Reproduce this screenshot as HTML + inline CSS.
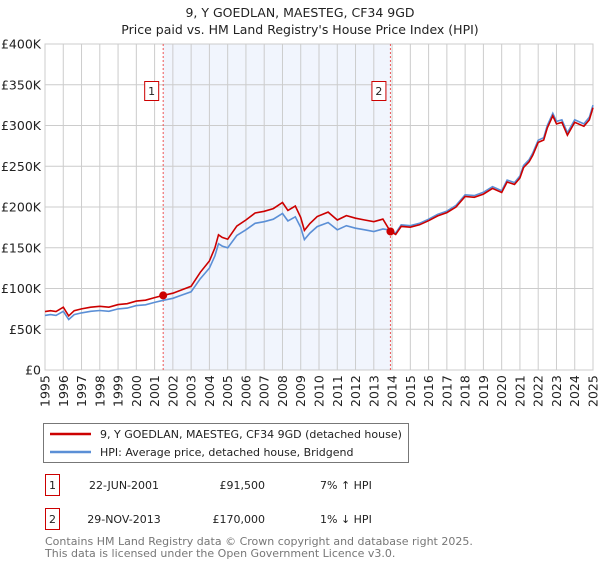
<!DOCTYPE html>
<html><head><meta charset="utf-8"><style>
body{margin:0;background:#fff;font-family:"Liberation Sans","DejaVu Sans",sans-serif;}
svg text{font-family:"DejaVu Sans","Liberation Sans",sans-serif;}
</style></head><body>
<svg id="c" width="600" height="560" xmlns="http://www.w3.org/2000/svg">
<text x="300" y="17" text-anchor="middle" font-size="12.5" fill="#222">9, Y GOEDLAN, MAESTEG, CF34 9GD</text>
<text x="300" y="34" text-anchor="middle" font-size="12.5" fill="#222">Price paid vs. HM Land Registry's House Price Index (HPI)</text>
<g id="plot"></g>
<g>
<rect x="43.5" y="423.5" width="365" height="39" fill="#fff" stroke="#777"/>
<line x1="50" y1="434" x2="91" y2="434" stroke="#cc0000" stroke-width="2.5"/>
<text x="100" y="438" font-size="11" fill="#222">9, Y GOEDLAN, MAESTEG, CF34 9GD (detached house)</text>
<line x1="50" y1="452" x2="91" y2="452" stroke="#5b8fd6" stroke-width="2.5"/>
<text x="100" y="456" font-size="11" fill="#222">HPI: Average price, detached house, Bridgend</text>
</g>
<g font-size="11" fill="#222">
<rect x="45.5" y="474.5" width="14" height="21" fill="#fff" stroke="#cc0000"/>
<text x="52.5" y="489" text-anchor="middle">1</text>
<text x="124" y="489" text-anchor="middle">22-JUN-2001</text>
<text x="265" y="489" text-anchor="end">£91,500</text>
<text x="320" y="489">7% ↑ HPI</text>
<rect x="45.5" y="508.5" width="14" height="21" fill="#fff" stroke="#cc0000"/>
<text x="52.5" y="523" text-anchor="middle">2</text>
<text x="124" y="523" text-anchor="middle">29-NOV-2013</text>
<text x="265" y="523" text-anchor="end">£170,000</text>
<text x="320" y="523">1% ↓ HPI</text>
</g>
<text x="45" y="545" font-size="11" fill="#777">Contains HM Land Registry data © Crown copyright and database right 2025.</text>
<text x="45" y="557" font-size="11" fill="#777">This data is licensed under the Open Government Licence v3.0.</text>
</svg>
<script>
const hpiYears=[1995,1995.3,1995.6,1996,1996.3,1996.6,1997,1997.5,1998,1998.5,1999,1999.5,2000,2000.5,2001,2001.47,2002,2002.5,2003,2003.5,2004,2004.3,2004.5,2004.7,2005,2005.5,2006,2006.5,2007,2007.5,2008,2008.3,2008.7,2009,2009.2,2009.5,2009.9,2010.5,2011,2011.5,2012,2012.5,2013,2013.5,2013.91,2014.2,2014.5,2015,2015.5,2016,2016.5,2017,2017.5,2018,2018.5,2019,2019.5,2020,2020.3,2020.7,2021,2021.2,2021.5,2021.7,2022,2022.3,2022.5,2022.8,2023,2023.3,2023.6,2024,2024.5,2024.8,2025];
const hpiValues=[67000,68000,67000,72000,62000,68000,70000,72000,73000,72000,75000,76000,79000,80000,83000,85500,88000,92000,96000,112000,125000,140000,155000,152000,150000,165000,172000,180000,182000,185000,192000,183000,188000,175000,160000,168000,176000,181000,172000,177000,174000,172000,170000,173000,171700,168000,178000,177000,180000,185000,191000,195000,202000,215000,214000,218000,225000,220000,233000,230000,238000,251000,258000,266000,282000,285000,300000,315000,305000,307000,291000,307000,302000,310000,325000];
const saleDates=[2001.47,2013.91];
const salePrices=[91500,170000];
const saleLabels=["1","2"];
const yTicks=[0,50000,100000,150000,200000,250000,300000,350000,400000];
const yTickLabels=["£0","£50K","£100K","£150K","£200K","£250K","£300K","£350K","£400K"];
const xTicks=[1995,1996,1997,1998,1999,2000,2001,2002,2003,2004,2005,2006,2007,2008,2009,2010,2011,2012,2013,2014,2015,2016,2017,2018,2019,2020,2021,2022,2023,2024,2025];

const L=45,R=593,T=44,B=370;
const xs=y=>L+(y-1995)/30*(R-L);
const ys=v=>B-v/400000*(B-T);
const NS="http://www.w3.org/2000/svg";
const g=document.getElementById('plot');
function mk(tag,attrs,parent){const e=document.createElementNS(NS,tag);for(const k in attrs)e.setAttribute(k,attrs[k]);(parent||g).appendChild(e);return e;}
function hpiAt(t){for(let i=0;i<hpiYears.length-1;i++){if(t<=hpiYears[i+1]){const f=(t-hpiYears[i])/(hpiYears[i+1]-hpiYears[i]);return hpiValues[i]+f*(hpiValues[i+1]-hpiValues[i]);}}return hpiValues[hpiValues.length-1];}

const shade=mk('rect',{x:xs(saleDates[0]),y:T,width:xs(saleDates[1])-xs(saleDates[0]),height:B-T,fill:'#eef3fc',opacity:0.8});


xTicks.forEach(t=>{
 const l=mk('line',{x1:xs(t),x2:xs(t),y1:T,y2:B,stroke:'#cccccc','stroke-width':1});
 
 
 const tx=mk('text',{transform:`translate(${xs(t)+4.5},${B+37}) rotate(-90)`,'font-size':12.5,fill:'#222'});
 tx.textContent=t;
 
 
});
yTicks.forEach((v,i)=>{
 const l=mk('line',{x1:L,x2:R,y1:ys(v),y2:ys(v),stroke:'#cccccc','stroke-width':1});
 
 
 const tx=mk('text',{x:L-4,y:ys(v)+4.5,'text-anchor':'end','font-size':12.5,fill:'#222'});
 tx.textContent=yTickLabels[i];
 
 
});
const border=mk('rect',{x:L,y:T,width:R-L,height:B-T,fill:'none',stroke:'#cccccc'});



saleDates.forEach((d,i)=>{
 const l=mk('line',{x1:xs(d),x2:xs(d),y1:T,y2:B,stroke:'#ee5555','stroke-width':1,'stroke-dasharray':'2,2'});
 
 
});

const hp=hpiYears.map((t,i)=>`${i?'L':'M'}${xs(t).toFixed(1)},${ys(hpiValues[i]).toFixed(1)}`).join('');
const blue=mk('path',{d:hp,fill:'none',stroke:'#5b8fd6','stroke-width':1.6});



const ref1=hpiAt(saleDates[0]),ref2=hpiAt(saleDates[1]);
const rp=hpiYears.map((t,i)=>{const v=t<saleDates[1]?hpiValues[i]*salePrices[0]/ref1:hpiValues[i]*salePrices[1]/ref2;return `${i?'L':'M'}${xs(t).toFixed(1)},${ys(v).toFixed(1)}`;}).join('');
const red=mk('path',{d:rp,fill:'none',stroke:'#cc0000','stroke-width':1.6});



saleDates.forEach((d,i)=>{
 const c=mk('circle',{cx:xs(d),cy:ys(salePrices[i]),r:4,fill:'#cc0000'});
 
 
 const r=mk('rect',{x:xs(d)-18.5,y:81.5,width:14,height:19,fill:'#fff',stroke:'#cc0000'});
 
 
 const tx=mk('text',{x:xs(d)-11.5,y:95,'text-anchor':'middle','font-size':11,fill:'#222'});
 tx.textContent=saleLabels[i];
 
 
});
</script>
</body></html>
